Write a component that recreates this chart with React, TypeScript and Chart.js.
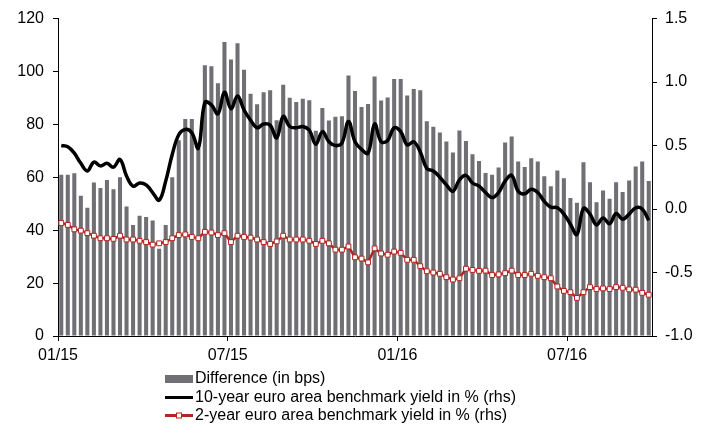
import React, { useEffect, useRef } from 'react';
import { Chart, registerables } from 'chart.js';

Chart.register(...registerables);

// Weekly data, Jan 2015 – Oct 2016 (91 weeks)
const diffBps: number[] = [
  61, 61, 61.5, 53, 48.5, 58, 56, 59, 55.5, 60,
  49, 42, 45.5, 45, 43.7, 33, 42, 60, 74, 82,
  82, 71, 102.4, 102, 95.6, 111.2, 104.5, 110.7, 100.7, 91.6,
  87.6, 92.2, 92.9, 81.6, 95, 90.1, 88.5, 89.7, 89.1, 77.6,
  86.2, 81.5, 82.9, 83.1, 98.5, 92.6, 86.6, 87.7, 98.1, 89,
  90.2, 97.2, 97.2, 90.9, 93.4, 92.9, 81.2, 79.1, 76.9, 73.5,
  69.4, 77.7, 73.7, 68.7, 66.2, 61.6, 61, 63.7, 73.2, 75.4,
  66, 63.9, 67.2, 66, 60.4, 56.6, 62.6, 59.6, 52.2, 50.4,
  65.7, 58.1, 50.6, 55, 51.9, 58.1, 54.4, 58.8, 64.1, 66,
  58.6,
];

const yield10y: number[] = [
  0.50, 0.49, 0.44, 0.36, 0.30, 0.37, 0.34, 0.36, 0.33, 0.39,
  0.26, 0.18, 0.205, 0.19, 0.13, 0.07, 0.22, 0.43, 0.585, 0.627,
  0.60, 0.48, 0.84, 0.82, 0.75, 0.92, 0.79, 0.89, 0.78, 0.70,
  0.64, 0.67, 0.66, 0.56, 0.73, 0.65, 0.64, 0.65, 0.62, 0.51,
  0.61, 0.53, 0.50, 0.52, 0.69, 0.53, 0.47, 0.44, 0.67, 0.53,
  0.54, 0.64, 0.61, 0.505, 0.53, 0.45, 0.32, 0.30, 0.25, 0.19,
  0.14, 0.23, 0.265, 0.205, 0.18, 0.13, 0.09, 0.13, 0.22, 0.265,
  0.14, 0.12, 0.155, 0.13, 0.06, 0.015, 0.01, -0.04, -0.12, -0.20,
  0.005, -0.04, -0.125, -0.07, -0.115, -0.035, -0.08, -0.04, 0.01, 0.0,
  -0.09,
];

const yield2y: number[] = [
  -0.11, -0.125, -0.16, -0.17, -0.19, -0.21, -0.23, -0.23, -0.235, -0.21,
  -0.24, -0.24, -0.25, -0.26, -0.28, -0.27, -0.26, -0.23, -0.205, -0.20,
  -0.22, -0.23, -0.18, -0.185, -0.205, -0.19, -0.26, -0.21, -0.22, -0.225,
  -0.24, -0.26, -0.275, -0.255, -0.21, -0.24, -0.24, -0.24, -0.25, -0.275,
  -0.25, -0.27, -0.32, -0.32, -0.295, -0.38, -0.39, -0.42, -0.31, -0.35,
  -0.36, -0.335, -0.345, -0.40, -0.40, -0.45, -0.49, -0.50, -0.51, -0.537,
  -0.555, -0.545, -0.47, -0.48, -0.487, -0.485, -0.52, -0.515, -0.505, -0.485,
  -0.52, -0.52, -0.51, -0.526, -0.537, -0.545, -0.61, -0.645, -0.655, -0.70,
  -0.655, -0.615, -0.63, -0.625, -0.63, -0.615, -0.62, -0.633, -0.635, -0.66,
  -0.675,
];

const xTickLabels: string[] = ['01/15', '07/15', '01/16', '07/16'];
const xTickWeeks: number[] = [0, 26, 52, 78];

const seriesLabels: string[] = [
  'Difference (in bps)',
  '10-year euro area benchmark yield in % (rhs)',
  '2-year euro area benchmark yield in % (rhs)',
];

const BAR_COLOR = '#6f6f74';
const RED = '#b52420';
const FONT = '"Liberation Sans", Arial, sans-serif';

const stackedLegend = {
  id: 'stackedLegend',
  afterDraw(chart: any) {
    const ctx = chart.ctx;
    const x0 = 165;
    const x1 = 193;
    const tx = 195;
    const rows = [379, 397.5, 415.5];
    ctx.save();
    ctx.font = `16px ${FONT}`;
    ctx.textBaseline = 'middle';
    ctx.textAlign = 'left';
    chart.data.datasets.forEach((ds: any, k: number) => {
      const y = rows[k];
      if (k === 0) {
        ctx.fillStyle = BAR_COLOR;
        ctx.fillRect(x0, y - 4, x1 - x0, 8);
      } else {
        ctx.strokeStyle = ds.borderColor;
        ctx.lineWidth = 3;
        ctx.beginPath();
        ctx.moveTo(x0, y);
        ctx.lineTo(x1, y);
        ctx.stroke();
        if (k === 2) {
          ctx.fillStyle = '#fff';
          ctx.strokeStyle = RED;
          ctx.lineWidth = 1;
          const cx = (x0 + x1) / 2;
          ctx.fillRect(cx - 2.5, y - 2.5, 5, 5);
          ctx.strokeRect(cx - 2.5, y - 2.5, 5, 5);
        }
      }
      ctx.fillStyle = '#000';
      ctx.fillText(ds.label, tx, y);
    });
    ctx.restore();
  },
};

export default function App() {
  const ref = useRef<HTMLCanvasElement | null>(null);

  useEffect(() => {
    if (!ref.current) return;
    const chart = new Chart(ref.current, {
      type: 'bar',
      data: {
        datasets: [
          {
            type: 'bar',
            label: seriesLabels[0],
            data: diffBps.map((v, i) => ({ x: i + 0.5, y: v })),
            backgroundColor: BAR_COLOR,
            borderWidth: 0,
            barPercentage: 0.62,
            categoryPercentage: 1,
            yAxisID: 'y',
            order: 3,
          },
          {
            type: 'line',
            label: seriesLabels[1],
            data: yield10y.map((v, i) => ({ x: i + 0.5, y: v })),
            borderColor: '#000',
            borderWidth: 3.5,
            pointRadius: 0,
            tension: 0.4,
            fill: false,
            yAxisID: 'y1',
            order: 2,
          },
          {
            type: 'line',
            label: seriesLabels[2],
            data: yield2y.map((v, i) => ({ x: i + 0.5, y: v })),
            borderColor: RED,
            borderWidth: 2.5,
            pointStyle: 'rect',
            pointRadius: 3.4,
            pointBorderWidth: 1,
            pointBackgroundColor: '#fff',
            pointBorderColor: RED,
            tension: 0,
            fill: false,
            yAxisID: 'y1',
            order: 1,
          },
        ] as any,
      },
      options: {
        animation: false,
        responsive: false,
        devicePixelRatio: 1,
        layout: { padding: { top: 16, bottom: 60, left: 0, right: 0 } },
        plugins: {
          legend: { display: false },
          tooltip: { enabled: false },
        },
        scales: {
          x: {
            type: 'linear',
            min: 0,
            max: diffBps.length,
            offset: false,
            grid: {
              display: true,
              drawOnChartArea: false,
              drawTicks: true,
              tickLength: 5,
              color: '#000',
              offset: false,
            },
            border: { display: true, color: '#000', width: 1 },
            afterBuildTicks: (scale: any) => {
              scale.ticks = xTickWeeks.map((v) => ({ value: v }));
            },
            afterFit: (scale: any) => {
              scale.height = 30;
            },
            ticks: {
              autoSkip: false,
              maxRotation: 0,
              padding: 5,
              color: '#000',
              font: { size: 16, family: FONT },
              callback: (v: any) => {
                const k = xTickWeeks.indexOf(Number(v));
                return k >= 0 ? xTickLabels[k] : '';
              },
            },
          },
          y: {
            type: 'linear',
            position: 'left',
            min: 0,
            max: 120,
            grid: {
              display: true,
              drawOnChartArea: false,
              drawTicks: true,
              tickLength: 5,
              color: '#000',
            },
            border: { display: true, color: '#000', width: 1 },
            afterFit: (scale: any) => {
              scale.width = 58;
            },
            ticks: {
              stepSize: 20,
              padding: 9,
              color: '#000',
              font: { size: 16, family: FONT },
            },
          },
          y1: {
            type: 'linear',
            position: 'right',
            min: -1,
            max: 1.5,
            grid: {
              display: true,
              drawOnChartArea: false,
              drawTicks: true,
              tickLength: 5,
              color: '#000',
            },
            border: { display: true, color: '#000', width: 1 },
            afterFit: (scale: any) => {
              scale.width = 58;
            },
            ticks: {
              stepSize: 0.5,
              padding: 8,
              color: '#000',
              font: { size: 16, family: FONT },
              callback: (v: any) => Number(v).toFixed(1),
            },
          },
        },
      } as any,
      plugins: [stackedLegend],
    });
    return () => chart.destroy();
  }, []);

  return (
    <div style={{ position: 'absolute', left: 0, top: 0, width: 710, height: 426, background: '#fff' }}>
      <canvas ref={ref} width={710} height={426} style={{ display: 'block', width: 710, height: 426 }} />
    </div>
  );
}
